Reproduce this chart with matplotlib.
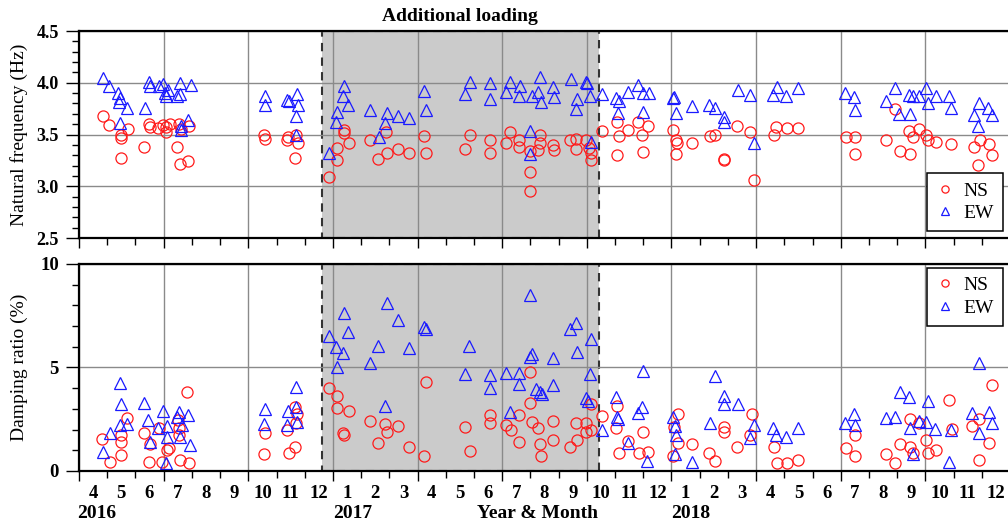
import matplotlib
matplotlib.use("Agg")
import matplotlib.pyplot as plt
import matplotlib.transforms as mtransforms
from matplotlib.ticker import MultipleLocator
import numpy as np

plt.rcParams['font.family'] = ['Liberation Serif', 'DejaVu Serif']

# time axis: months elapsed since 1 April 2016
month_labels = [str(m) for m in list(range(4, 13)) + list(range(1, 13)) + list(range(1, 13))]
year_labels = ['2016', '2017', '2018']
year_pos = [0.63, 9.69, 21.67]
shade_start, shade_end = 8.61, 18.42   # "Additional loading" period

# ---- Natural frequency (Hz) ----
ns_f_t = [0.86, 1.07, 1.48, 1.49, 1.75, 1.48, 2.31, 2.49, 2.51, 2.81, 2.99, 3.10, 3.10, 3.22, 3.55,
          3.60, 3.49, 3.58, 3.85, 3.91, 6.56, 6.60, 7.36, 7.42, 7.69, 7.75, 7.65,
          8.87, 9.13, 9.13, 9.39, 9.41, 9.58, 10.31, 10.60, 10.88, 10.92, 11.31, 11.70, 12.22, 12.31,
          13.67, 13.85, 14.56, 14.56, 15.15, 15.29, 15.60, 15.59, 16.00, 16.00, 16.00, 16.33, 16.34,
          16.27, 16.80, 16.82, 17.39, 17.63, 17.60, 17.98, 18.08, 18.16, 18.16, 18.55, 19.07, 19.14,
          19.08, 19.46, 19.81, 19.97, 20.17, 19.99, 21.05, 21.15, 21.20, 21.17, 21.74, 22.35, 22.56,
          22.86, 22.88, 23.32, 23.77, 23.92, 24.62, 24.71, 25.09, 25.48, 27.17, 27.49, 27.51, 28.61,
          28.91, 29.11, 29.44, 29.41, 29.58, 29.77, 30.03, 30.09, 30.38, 30.91, 31.74, 31.92, 32.25,
          32.37, 31.86]
ns_f = [3.68, 3.59, 3.50, 3.47, 3.55, 3.27, 3.38, 3.60, 3.57, 3.56, 3.59, 3.57, 3.52, 3.60, 3.60,
        3.55, 3.38, 3.22, 3.24, 3.58, 3.50, 3.46, 3.45, 3.48, 3.50, 3.42, 3.27,
        3.09, 3.37, 3.25, 3.54, 3.51, 3.42, 3.45, 3.26, 3.52, 3.32, 3.36, 3.32, 3.49, 3.32,
        3.36, 3.50, 3.45, 3.32, 3.42, 3.52, 3.45, 3.38, 3.34, 3.14, 2.95, 3.50, 3.42,
        3.35, 3.40, 3.35, 3.45, 3.46, 3.36, 3.45, 3.37, 3.32, 3.25, 3.53, 3.62, 3.49,
        3.30, 3.54, 3.62, 3.50, 3.58, 3.33, 3.54, 3.45, 3.42, 3.31, 3.42, 3.49, 3.50,
        3.26, 3.25, 3.58, 3.52, 3.06, 3.50, 3.57, 3.56, 3.56, 3.48, 3.48, 3.31, 3.45,
        3.75, 3.34, 3.31, 3.53, 3.48, 3.55, 3.50, 3.45, 3.43, 3.41, 3.38, 3.45, 3.41,
        3.30, 3.21]

ew_f_t = [0.84, 1.07, 1.39, 1.45, 1.42, 1.69, 1.45, 2.34, 2.48, 2.52, 2.85, 2.96, 3.05, 3.08, 3.15,
          3.58, 3.46, 3.58, 3.60, 3.62, 3.87, 3.96, 6.59, 6.61, 7.38, 7.45, 7.71, 7.77, 7.69, 7.68,
          8.87, 9.10, 9.13, 9.34, 9.39, 9.54, 10.33, 10.64, 10.84, 10.92, 11.31, 11.70, 12.22, 12.31,
          13.67, 13.85, 14.56, 14.56, 15.15, 15.29, 15.62, 15.59, 16.04, 16.00, 16.00, 16.27, 16.35,
          16.39, 16.80, 16.83, 17.45, 17.65, 17.63, 17.98, 18.02, 18.13, 18.16, 18.55, 19.02, 19.10,
          19.13, 19.46, 19.81, 19.99, 20.20, 19.99, 21.05, 21.10, 21.17, 21.74, 22.33, 22.56, 22.88,
          22.85, 23.35, 23.77, 23.92, 24.60, 24.74, 25.07, 25.48, 27.16, 27.46, 27.49, 28.61, 28.91,
          29.08, 29.41, 29.44, 29.58, 29.79, 30.03, 30.09, 30.38, 30.83, 30.91, 31.74, 31.89, 31.86,
          32.21, 32.36]
ew_f = [4.05, 3.97, 3.90, 3.85, 3.81, 3.76, 3.61, 3.76, 4.01, 3.97, 3.97, 3.99, 3.90, 3.87, 3.93,
        4.00, 3.87, 3.89, 3.54, 3.58, 3.64, 3.98, 3.87, 3.79, 3.83, 3.82, 3.89, 3.79, 3.68, 3.50,
        3.32, 3.62, 3.72, 3.87, 3.97, 3.79, 3.74, 3.48, 3.61, 3.71, 3.68, 3.66, 3.92, 3.74,
        3.89, 4.01, 4.00, 3.84, 3.91, 4.01, 3.97, 3.87, 3.87, 3.53, 3.31, 3.91, 4.06,
        3.81, 3.96, 3.86, 4.04, 3.84, 3.75, 4.01, 4.00, 3.87, 3.43, 3.89, 3.85, 3.71,
        3.82, 3.91, 3.98, 3.90, 3.90, 3.72, 3.85, 3.86, 3.71, 3.78, 3.79, 3.76, 3.67,
        3.62, 3.93, 3.88, 3.42, 3.88, 3.96, 3.87, 3.95, 3.90, 3.86, 3.74, 3.82, 3.95,
        3.70, 3.88, 3.70, 3.87, 3.87, 3.95, 3.80, 3.87, 3.87, 3.76, 3.69, 3.80, 3.58,
        3.76, 3.69]

# ---- Damping ratio (%) ----
ns_d_t = [0.83, 1.10, 1.48, 1.48, 1.48, 1.71, 2.31, 2.49, 2.52, 2.85, 2.95, 3.11, 3.20, 3.52, 3.55,
          3.55, 3.58, 3.91, 3.84, 6.59, 6.56, 7.36, 7.44, 7.65, 7.71, 7.69, 7.65,
          8.87, 9.13, 9.13, 9.36, 9.39, 9.58, 10.31, 10.60, 10.84, 10.92, 11.31, 11.70, 12.22, 12.31,
          13.67, 13.85, 14.56, 14.56, 15.15, 15.30, 15.59, 15.60, 16.00, 16.00, 16.04, 16.27, 16.35,
          16.39, 16.80, 16.80, 17.42, 17.60, 17.65, 17.98, 17.98, 18.16, 18.16, 18.55, 19.07, 19.05,
          19.14, 19.46, 19.85, 20.17, 19.99, 21.08, 21.23, 21.23, 21.05, 21.74, 22.33, 22.56, 22.88,
          22.85, 23.32, 23.77, 23.86, 24.62, 24.74, 25.09, 25.48, 27.17, 27.49, 27.49, 28.61, 28.91,
          29.11, 29.44, 29.46, 29.58, 29.77, 30.03, 30.09, 30.38, 30.83, 30.95, 31.66, 31.89, 31.89,
          32.25, 32.37]
ns_d = [1.55, 0.42, 1.74, 1.42, 0.77, 2.54, 1.85, 0.42, 1.30, 2.06, 0.45, 1.01, 1.10, 2.46, 2.06,
        1.74, 0.53, 0.40, 3.83, 1.85, 0.82, 1.98, 0.85, 3.11, 2.75, 2.30, 1.18,
        4.00, 3.62, 3.03, 1.82, 1.74, 2.91, 2.43, 1.37, 2.27, 1.90, 2.17, 1.18, 0.72, 4.31,
        2.11, 0.98, 2.71, 2.33, 2.22, 1.98, 2.71, 1.42, 4.80, 3.30, 2.38, 2.06, 1.30,
        0.72, 2.43, 1.50, 1.18, 2.30, 1.50, 2.33, 1.90, 3.24, 1.98, 2.66, 3.14, 2.06,
        0.88, 1.46, 0.85, 0.93, 1.90, 2.14, 2.75, 1.37, 0.72, 1.30, 0.88, 0.50, 2.11,
        1.90, 1.14, 1.74, 2.75, 1.18, 0.40, 0.40, 0.53, 1.10, 1.74, 0.72, 0.82, 0.40,
        1.30, 2.50, 1.18, 0.88, 2.30, 1.50, 0.88, 1.01, 3.43, 2.01, 2.17, 2.50, 0.53,
        1.37, 4.15]

ew_d_t = [0.84, 1.10, 1.45, 1.48, 1.45, 1.69, 2.31, 2.45, 2.52, 2.81, 2.96, 3.11, 3.11, 3.08, 3.54,
          3.46, 3.64, 3.58, 3.87, 3.93, 6.59, 6.55, 7.41, 7.38, 7.69, 7.68, 7.71,
          8.87, 9.10, 9.13, 9.34, 9.39, 9.54, 10.33, 10.60, 10.84, 10.92, 11.31, 11.70, 12.22, 12.29,
          13.67, 13.83, 14.56, 14.56, 15.15, 15.29, 15.59, 15.60, 16.00, 16.04, 16.00, 16.21, 16.33,
          16.40, 16.80, 16.80, 17.42, 17.60, 17.65, 17.98, 18.05, 18.13, 18.16, 18.55, 19.02, 19.07,
          19.10, 19.46, 19.81, 19.97, 19.99, 20.13, 21.05, 21.11, 21.17, 21.14, 21.74, 22.35, 22.56,
          22.88, 22.85, 23.35, 23.77, 23.92, 24.60, 24.71, 25.07, 25.48, 27.16, 27.46, 27.49, 28.59,
          28.91, 29.11, 29.41, 29.44, 29.56, 29.77, 30.03, 30.09, 30.36, 30.83, 30.91, 31.66, 31.89,
          31.89, 32.25, 32.37]
ew_d = [0.93, 1.82, 4.27, 3.24, 2.22, 2.27, 3.30, 2.46, 1.42, 2.06, 2.90, 2.17, 1.63, 0.40, 2.87,
        2.60, 2.22, 1.63, 2.71, 1.26, 2.98, 2.27, 2.91, 2.22, 4.04, 3.11, 2.38,
        6.52, 5.97, 5.01, 5.68, 7.65, 6.73, 5.23, 6.04, 3.14, 8.13, 7.29, 5.93, 6.94, 6.85,
        4.69, 6.04, 4.64, 4.00, 4.75, 2.87, 4.72, 4.20, 8.50, 5.65, 5.49, 3.95, 3.83,
        3.70, 5.44, 4.15, 6.85, 7.17, 5.77, 3.51, 3.38, 4.69, 6.36, 1.98, 3.59, 2.62,
        2.50, 1.37, 2.82, 3.11, 4.85, 0.50, 2.62, 2.17, 1.74, 0.82, 0.45, 2.33, 4.59,
        3.62, 3.24, 3.24, 1.58, 2.22, 2.06, 1.74, 1.63, 2.06, 2.33, 2.75, 2.22, 2.54,
        2.62, 3.83, 3.56, 2.06, 0.82, 2.43, 2.38, 3.40, 2.01, 0.45, 1.98, 2.82, 5.20,
        1.85, 2.87, 2.33]

XMAX = 32.93
n_months = len(month_labels)
boundaries = np.arange(0, n_months + 1)
quarters = [b for b in boundaries if b % 3 == 0 and b <= XMAX]
others = [b for b in boundaries if b % 3 != 0 and b <= XMAX]
mids = boundaries[:-1] + 0.5

fig = plt.figure(figsize=(10.08, 5.26), dpi=100)
ax1 = fig.add_axes([0.0784, 0.5475, 0.9216, 0.3935])
ax2 = fig.add_axes([0.0784, 0.1046, 0.9216, 0.3935])

RED = '#ff1a1a'
BLUE = '#1a1aff'

def style(ax):
    ax.set_xlim(0, XMAX)
    ax.axvspan(shade_start, shade_end, facecolor='#cbcbcb', edgecolor='#333333',
               linestyle=(0, (4, 3)), linewidth=1.5, zorder=0.3)
    ax.set_xticks(quarters)
    ax.set_xticks(others, minor=True)
    ax.tick_params(axis='x', which='major', length=7, width=1, labelbottom=False)
    ax.tick_params(axis='x', which='minor', length=5, width=1)
    ax.tick_params(axis='y', which='major', length=9.5, width=1, pad=5)
    ax.tick_params(axis='y', which='minor', length=5, width=1)
    ax.grid(True, which='major', color='#8a8a8a', linewidth=1.0)
    for s in ['left', 'top', 'bottom']:
        ax.spines[s].set_linewidth(1.6)
    ax.spines['right'].set_visible(False)

style(ax1)
style(ax2)

ax1.plot(ns_f_t, ns_f, 'o', mfc='none', mec=RED, ms=8, mew=0.9, label='NS')
ax1.plot(ew_f_t, ew_f, '^', mfc='none', mec=BLUE, ms=9, mew=0.9, label='EW')
ax2.plot(ns_d_t, ns_d, 'o', mfc='none', mec=RED, ms=8, mew=0.9, label='NS')
ax2.plot(ew_d_t, ew_d, '^', mfc='none', mec=BLUE, ms=9, mew=0.9, label='EW')

ax1.set_ylim(2.5, 4.5)
f_ticks = [2.5, 3.0, 3.5, 4.0, 4.5]
ax1.set_yticks(f_ticks, labels=[f'{v:.1f}' for v in f_ticks], fontsize=13, fontweight='bold')
ax1.yaxis.set_minor_locator(MultipleLocator(0.1))
ax1.set_ylabel('Natural frequency (Hz)', fontsize=14, labelpad=3)

ax2.set_ylim(0, 10)
d_ticks = [0, 5, 10]
ax2.set_yticks(d_ticks, labels=[str(v) for v in d_ticks], fontsize=13.5, fontweight='bold')
ax2.yaxis.set_minor_locator(MultipleLocator(1))
ax2.set_ylabel('Damping ratio (%)', fontsize=14, labelpad=3)
ax1.yaxis.set_label_coords(-0.0545, 0.5)
ax2.yaxis.set_label_coords(-0.0545, 0.5)

sec = ax2.secondary_xaxis('bottom')
sec.set_xticks(mids, labels=month_labels, fontsize=13.5, fontweight='bold')
sec.tick_params(length=0, pad=10)
sec.spines['bottom'].set_visible(False)

trans2 = mtransforms.blended_transform_factory(ax2.transData, ax2.transAxes)
for yl, xp in zip(year_labels, year_pos):
    ax2.text(xp, -0.205, yl, transform=trans2, ha='center', va='center',
             fontsize=14, fontweight='bold')
ax2.text(16.24, -0.205, 'Year & Month', transform=trans2, ha='center', va='center',
         fontsize=14, fontweight='bold')

trans1 = mtransforms.blended_transform_factory(ax1.transData, ax1.transAxes)
ax1.text((shade_start + shade_end) / 2, 1.07, 'Additional loading', transform=trans1,
         ha='center', va='center', fontsize=14, fontweight='bold')

leg_kw = dict(fontsize=14, markerscale=0.65, fancybox=False, framealpha=1, edgecolor='black',
              handlelength=1.0, handletextpad=0.45, borderpad=0.45, labelspacing=0.25,
              borderaxespad=0)
l1 = ax1.legend(loc='lower right', bbox_to_anchor=(0.9946, 0.034), **leg_kw)
l2 = ax2.legend(loc='upper right', bbox_to_anchor=(0.9946, 0.981), **leg_kw)
for l in (l1, l2):
    l.get_frame().set_linewidth(1.1)

fig.savefig('out.png', dpi=100)
